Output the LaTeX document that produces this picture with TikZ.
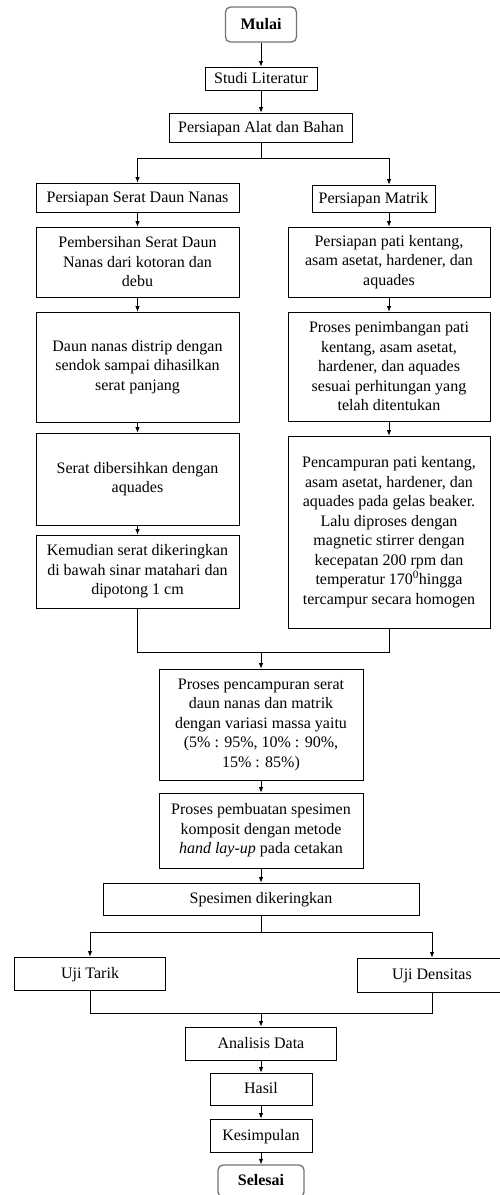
\documentclass[tikz,border=0pt]{standalone}
\usepackage{fontspec}
\setmainfont{Liberation Serif}
\usetikzlibrary{arrows.meta}
\begin{document}
\begin{tikzpicture}[x=1pt,y=-1pt,
  bx/.style={draw, line width=0.8pt, inner sep=2pt, font=\fontsize{16}{19.5}\selectfont},
  box/.style={bx, align=center},
  one/.style={bx, text height=11pt, text depth=1.5pt},
  term/.style={one, rounded corners=5pt, draw=black!55, line width=1.3pt, font=\fontsize{16}{19.5}\selectfont\bfseries},
  arr/.style={-{Latex[length=5.5pt,width=4.5pt]}, line width=0.8pt},
  ln/.style={line width=0.8pt}]
\useasboundingbox (0,0) rectangle (500,1195);
% main column top
\node[term, minimum width=71pt, minimum height=35pt] (mulai) at (261,24.5) {Mulai};
\node[one, minimum width=112pt, minimum height=23pt] (studi) at (261,78.5) {Studi Literatur};
\node[one, minimum width=183pt, minimum height=29pt] (alat) at (261,127.5) {Persiapan Alat dan Bahan};
% left column
\node[one, minimum width=203pt, minimum height=29pt] (serat) at (137.5,197.5) {Persiapan Serat Daun Nanas};
\node[box, minimum width=203pt, minimum height=70pt] (pemb) at (137.5,262) {Pembersihan Serat Daun\\Nanas dari kotoran dan\\debu};
\node[box, minimum width=203pt, minimum height=110pt] (daun) at (137.5,367) {Daun nanas distrip dengan\\sendok sampai dihasilkan\\serat panjang};
\node[box, minimum width=203pt, minimum height=92pt] (bersih) at (137.5,479) {Serat dibersihkan dengan\\aquades};
\node[box, minimum width=203pt, minimum height=73pt] (kemudian) at (137.5,571.5) {Kemudian serat dikeringkan\\di bawah sinar matahari dan\\dipotong 1 cm};
% right column
\node[one, minimum width=123pt, minimum height=27pt] (matrik) at (373.5,198.5) {Persiapan Matrik};
\node[box, minimum width=202pt, minimum height=70pt] (pati) at (389,262) {Persiapan pati kentang,\\asam asetat, hardener, dan\\aquades};
\node[box, minimum width=202pt, minimum height=109pt] (timbang) at (389,366.5) {Proses penimbangan pati\\kentang, asam asetat,\\hardener, dan aquades\\sesuai perhitungan yang\\telah ditentukan};
\node[box, minimum width=202pt, minimum height=192pt] (campur) at (389,532) {Pencampuran pati kentang,\\asam asetat, hardener, dan\\aquades pada gelas beaker.\\Lalu diproses dengan\\magnetic stirrer dengan\\kecepatan 200 rpm dan\\temperatur 170\textsuperscript{0}hingga\\tercampur secara homogen};
% middle
\node[box, minimum width=204pt, minimum height=111pt] (proses1) at (261,724.5) {Proses pencampuran serat\\daun nanas dan matrik\\dengan variasi massa yaitu\\(5\% : 95\%, 10\% : 90\%,\\15\% : 85\%)};
\node[box, minimum width=204pt, minimum height=75pt] (proses2) at (261,830.5) {Proses pembuatan spesimen\\komposit dengan metode\\\textit{hand lay-up} pada cetakan};
\node[one, minimum width=316pt, minimum height=32pt] (spes) at (261,899) {Spesimen dikeringkan};
\node[one, minimum width=151pt, minimum height=33pt] (tarik) at (90,973.5) {Uji Tarik};
\node[one, minimum width=150pt, minimum height=34pt] (densitas) at (432,975) {Uji Densitas};
\node[one, minimum width=151pt, minimum height=33pt] (analisis) at (261,1043.5) {Analisis Data};
\node[one, minimum width=102pt, minimum height=32pt] (hasil) at (261,1089) {Hasil};
\node[one, minimum width=102pt, minimum height=33pt] (kesimpulan) at (261,1135.5) {Kesimpulan};
\node[term, minimum width=86pt, minimum height=32pt] (selesai) at (261,1181) {Selesai};
% coordinates
\coordinate (sp) at (261,158);
\coordinate (rc) at (389,158);
\coordinate (jn) at (261,652);
\coordinate (b2) at (261,932);
\coordinate (j2) at (261,1013);
% connectors
\draw[arr] (mulai) -- (studi);
\draw[arr] (studi) -- (alat);
\draw[ln] (alat.south) -- (sp);
\draw[arr] (sp) -| (serat.north);
\draw[arr] (sp) -- (rc) -- (rc |- matrik.north);
\draw[arr] (serat) -- (pemb);
\draw[arr] (pemb) -- (daun);
\draw[arr] (daun) -- (bersih);
\draw[arr] (bersih) -- (kemudian);
\draw[arr] (rc |- matrik.south) -- (pati.north);
\draw[arr] (pati) -- (timbang);
\draw[arr] (timbang) -- (campur);
\draw[ln] (kemudian.south) |- (jn);
\draw[ln] (campur.south) |- (jn);
\draw[arr] (jn) -- (proses1.north);
\draw[arr] (proses1) -- (proses2);
\draw[arr] (proses2) -- (spes);
\draw[ln] (spes.south) -- (b2);
\draw[arr] (b2) -| (tarik.north);
\draw[arr] (b2) -| (densitas.north);
\draw[ln] (tarik.south) |- (j2);
\draw[ln] (densitas.south) |- (j2);
\draw[arr] (j2) -- (analisis.north);
\draw[arr] (analisis) -- (hasil);
\draw[arr] (hasil) -- (kesimpulan);
\draw[arr] (kesimpulan) -- (selesai);
\end{tikzpicture}
\end{document}
